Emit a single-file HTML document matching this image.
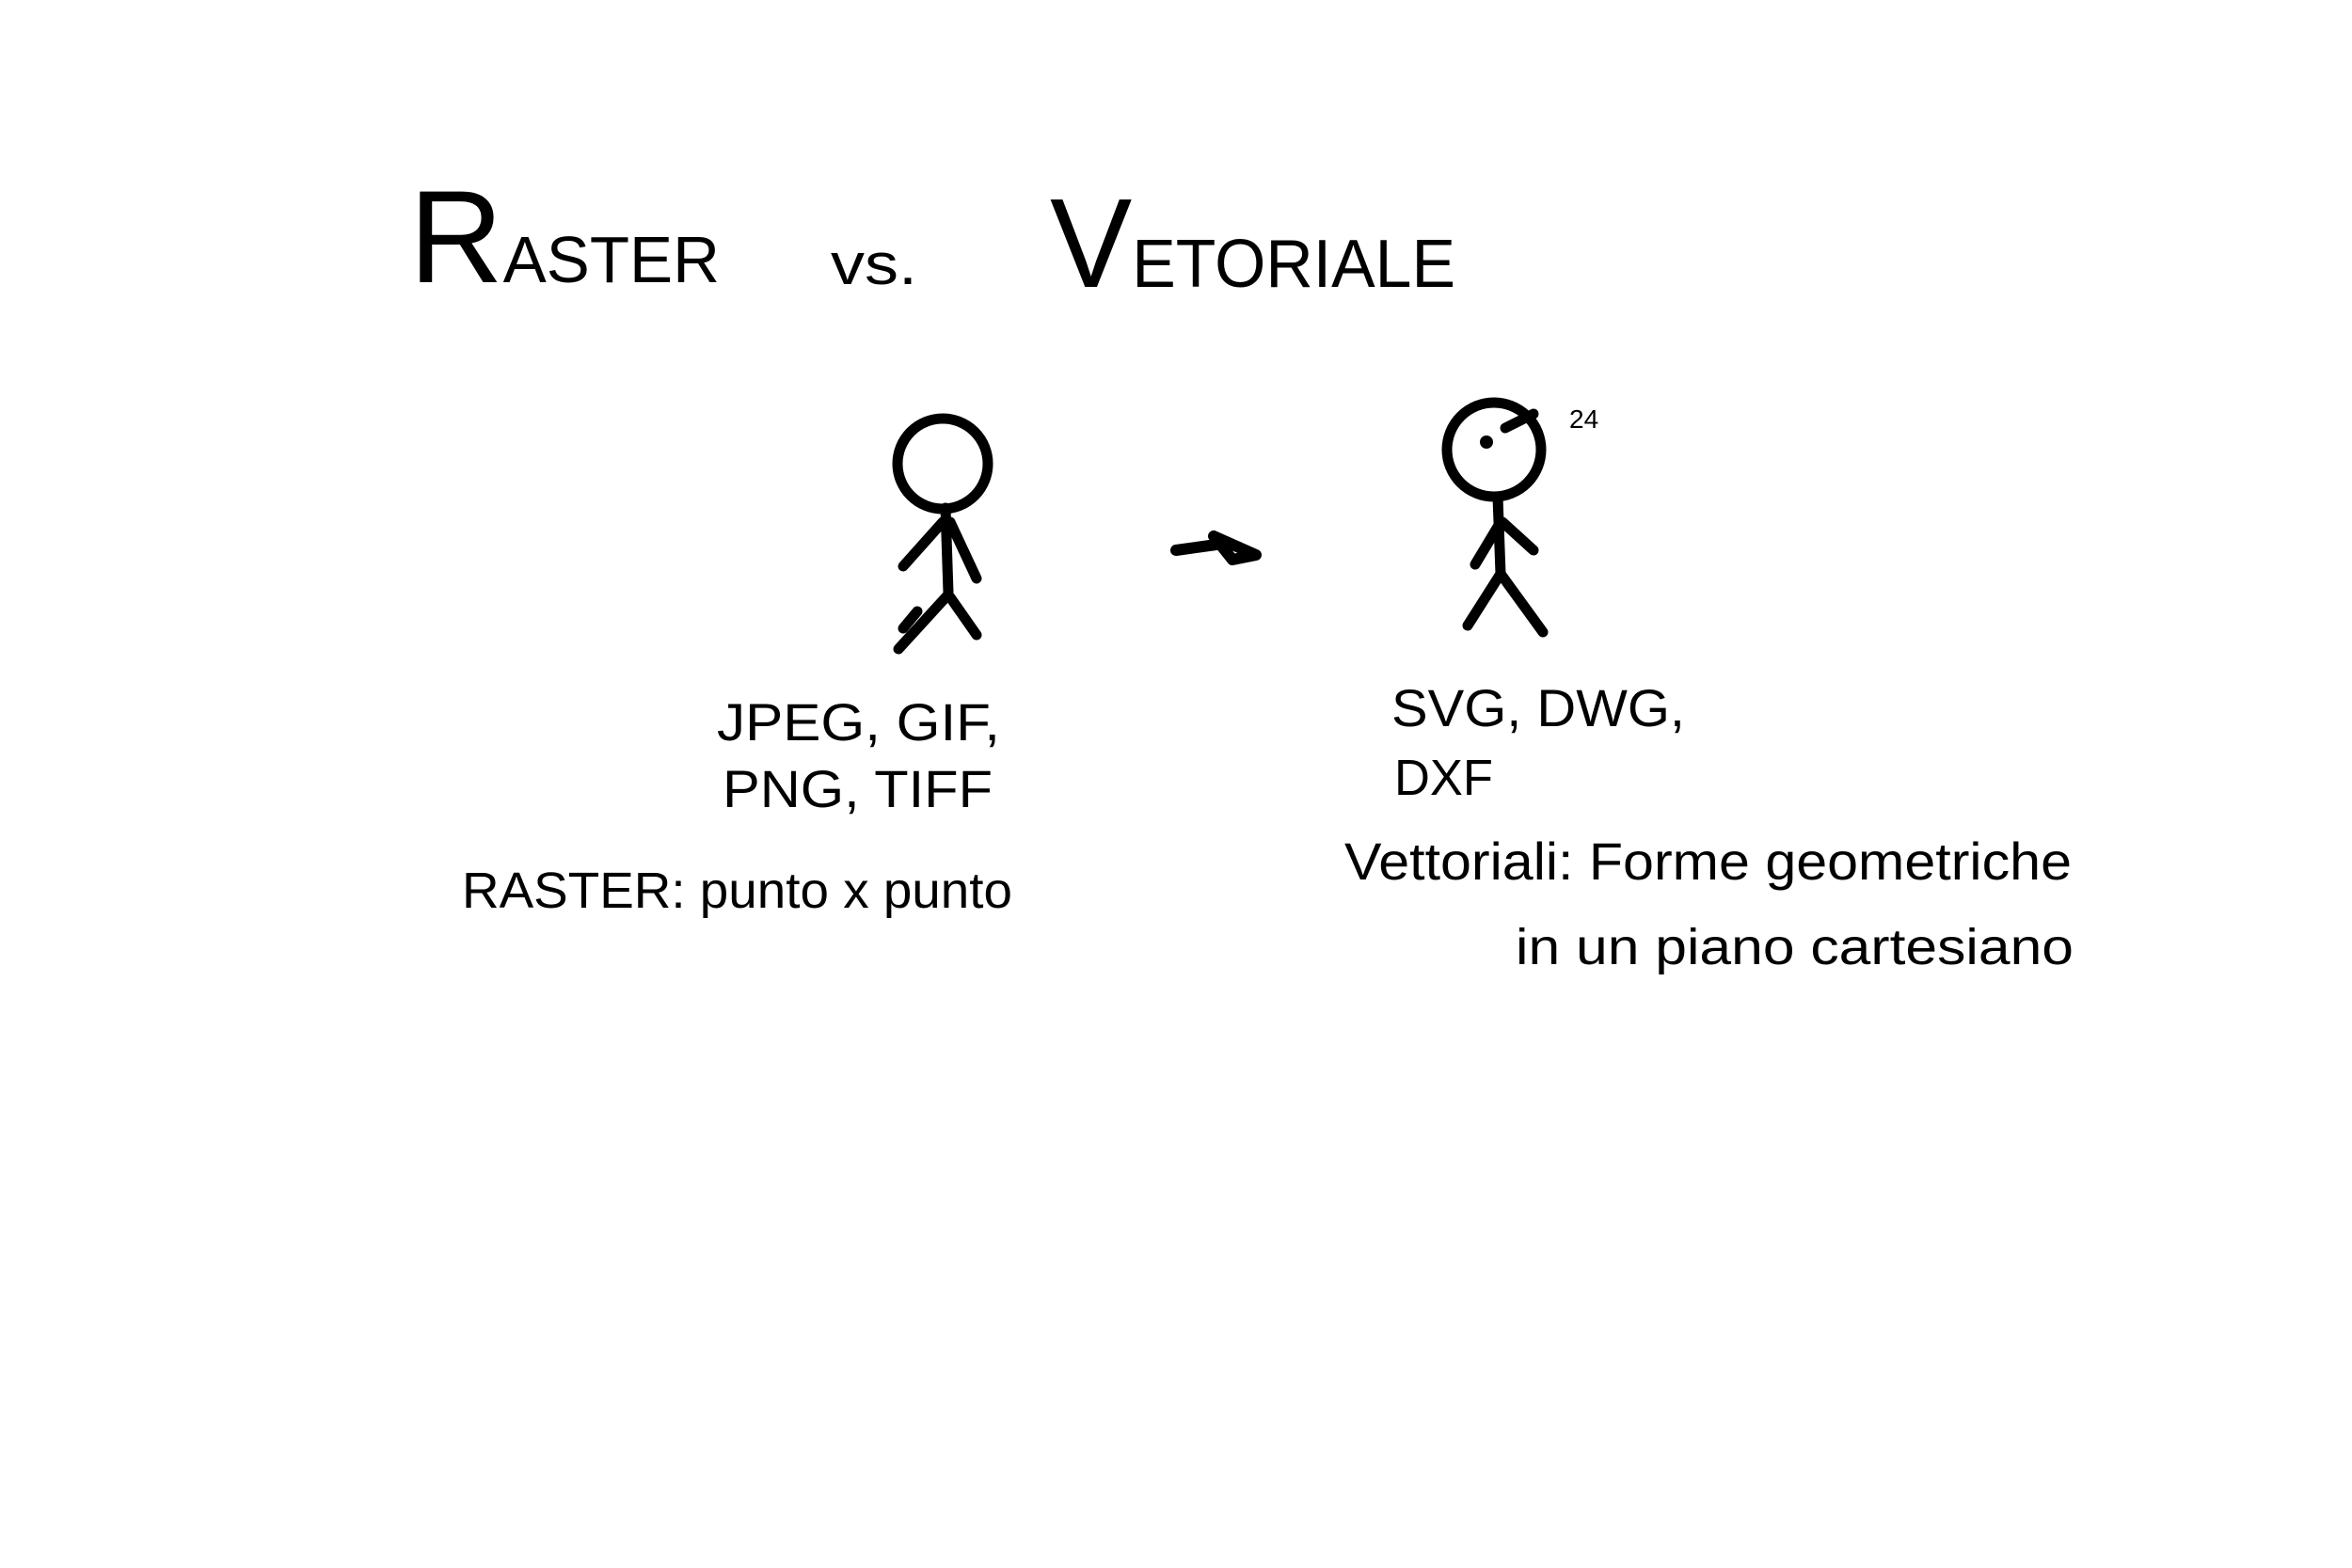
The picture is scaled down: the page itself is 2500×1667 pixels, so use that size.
<!DOCTYPE html>
<html><head><meta charset="utf-8"><style>
html,body{margin:0;padding:0;background:#fff;}
svg{display:block;}
text{font-family:"Liberation Sans",sans-serif;fill:#000;}
.s{fill:none;stroke:#000;stroke-width:11;stroke-linecap:round;stroke-linejoin:round;}
</style></head><body>
<svg width="2500" height="1667" viewBox="0 0 2500 1667">
<g>
<text x="435" y="300" font-size="70" textLength="330" lengthAdjust="spacingAndGlyphs"><tspan font-size="140" dy="0">R</tspan>ASTER</text>
<text x="883" y="302" font-size="62" textLength="92" lengthAdjust="spacingAndGlyphs">vs.</text>
<text x="1116" y="305" font-size="72" textLength="431" lengthAdjust="spacingAndGlyphs"><tspan font-size="135">V</tspan>ETORIALE</text>
</g>
<g>
<circle class="s" cx="1002" cy="493" r="48"/>
<path class="s" d="M1005 540 L1008 630 M960 602 L1002 555 M1010 555 L1038 615 M1008 632 L955 690 M1010 635 L1038 675 M960 668 L975 650"/>
</g>
<path class="s" d="M1250 585 L1300 578 M1290 570 L1335 590 L1310 595 Z" style="stroke-width:12"/>
<g>
<circle class="s" cx="1588" cy="478" r="50"/>
<circle cx="1580" cy="470" r="7"/>
<path class="s" d="M1600 455 L1630 440"/>
<text x="1668" y="455" font-size="28">24</text>
<path class="s" d="M1592 528 L1595 610 M1595 555 L1568 600 M1597 555 L1630 585 M1595 610 L1560 665 M1595 610 L1640 672"/>
</g>
<g>
<text x="762" y="787" font-size="56" textLength="301" lengthAdjust="spacingAndGlyphs">JPEG, GIF,</text>
<text x="768" y="858" font-size="56" textLength="287" lengthAdjust="spacingAndGlyphs">PNG, TIFF</text>
<text x="491" y="965" font-size="54" textLength="585" lengthAdjust="spacingAndGlyphs">RASTER: punto x punto</text>
</g>
<g>
<text x="1479" y="772" font-size="56" textLength="312" lengthAdjust="spacingAndGlyphs">SVG, DWG,</text>
<text x="1482" y="845" font-size="54" textLength="105" lengthAdjust="spacingAndGlyphs">DXF</text>
<text x="1429" y="935" font-size="56" textLength="773" lengthAdjust="spacingAndGlyphs">Vettoriali: Forme geometriche</text>
<text x="1611" y="1025" font-size="54" textLength="593" lengthAdjust="spacingAndGlyphs">in un piano cartesiano</text>
</g>
</svg>
</body></html>
